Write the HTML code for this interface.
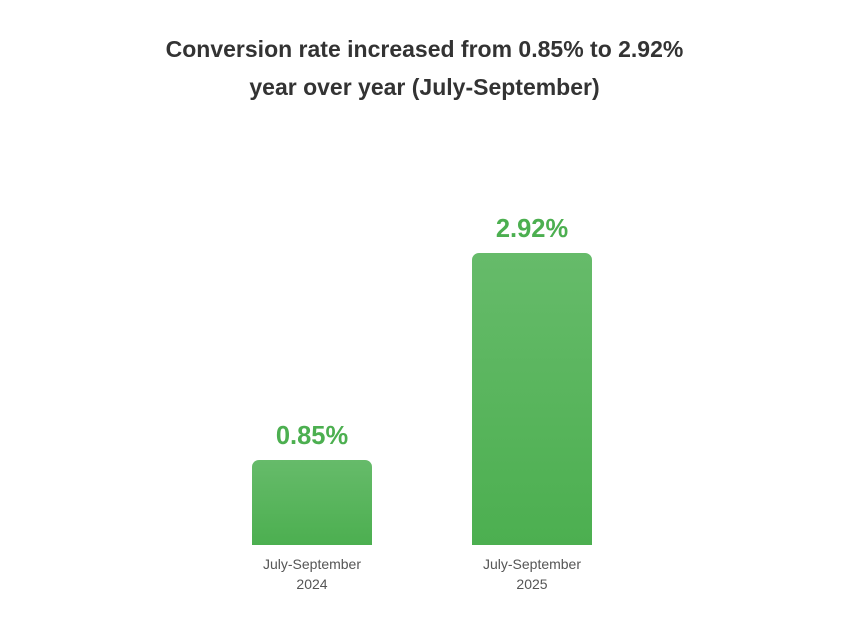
<!DOCTYPE html>
<html><head><meta charset="utf-8"><style>
body{margin:0;width:849px;height:636px;background:#fff;font-family:"Liberation Sans",Arial,sans-serif;position:relative;overflow:hidden}
.t{position:absolute;left:0;width:849px;text-align:center;font-weight:bold;font-size:23px;color:#333}
.bar{position:absolute;width:120px;border-radius:7px 7px 0 0;background:linear-gradient(#66bb6a,#4caf50)}
.v{position:absolute;width:120px;text-align:center;font-weight:bold;font-size:25.5px;color:#4caf50}
.l{position:absolute;width:160px;text-align:center;font-size:14px;color:#555;line-height:20px}
</style></head><body>
<div class="t" style="top:36px">Conversion rate increased from 0.85% to 2.92%</div>
<div class="t" style="top:74px">year over year (July-September)</div>
<div class="v" style="left:252px;top:422px">0.85%</div>
<div class="bar" style="left:252px;top:460px;height:85px"></div>
<div class="v" style="left:472px;top:215px">2.92%</div>
<div class="bar" style="left:472px;top:253px;height:292px"></div>
<div class="l" style="left:232px;top:554px">July-September<br>2024</div>
<div class="l" style="left:452px;top:554px">July-September<br>2025</div>
</body></html>
